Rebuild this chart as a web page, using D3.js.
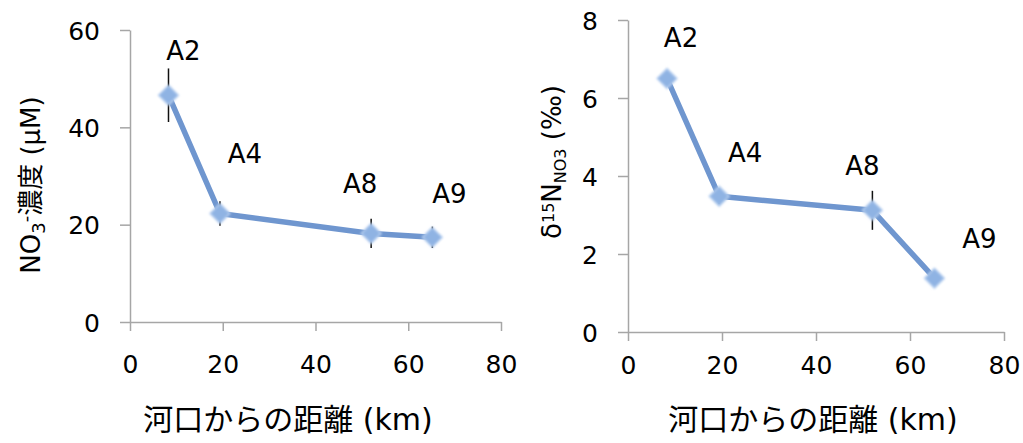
<!DOCTYPE html>
<html lang="ja">
  <head>
    <meta charset="UTF-8" />
    <title>NO3 chart</title>
    <style>
      body { margin: 0; background: #fff; }
      svg text { font-family: "DejaVu Sans", "Noto Sans CJK JP", sans-serif; fill: #000; }
    </style>
  </head>
  <body>
    <div id="chart"></div>
    <script src="https://d3js.org/d3.v7.min.js"></script>
    <script>
      // data
      var stations = ["A2", "A4", "A8", "A9"];
      var distance = [8.3, 19.4, 52.0, 65.2]; // km from river mouth
      var no3 = [46.6, 22.3, 18.2, 17.4];
      var no3Err = [5.5, 2.5, 3.0, 2.2];
      var d15n = [6.5, 3.48, 3.12, 1.38];
      var d15nErr = [0.12, 0.2, 0.5, 0.05];
      var xTicks = [0, 20, 40, 60, 80];
      var no3Ticks = [0, 20, 40, 60];
      var d15nTicks = [0, 2, 4, 6, 8];

      var W = 1023, H = 443;
      var svg = d3.select("#chart").append("svg")
        .attr("width", W).attr("height", H);

      var defs = svg.append("defs");
      var f = defs.append("filter").attr("id", "soft")
        .attr("x", "-50%").attr("y", "-50%").attr("width", "200%").attr("height", "200%");
      f.append("feGaussianBlur").attr("stdDeviation", 1.1);

      var drawChart = function (opt) {
        var x = d3.scaleLinear().domain([0, 80]).range([opt.left, opt.right]);
        var y = d3.scaleLinear().domain(opt.yDomain).range([opt.bottom, opt.top]);

        var g = svg.append("g");

        // axes
        var xAxis = g.append("g")
          .attr("transform", "translate(0," + opt.bottom + ")")
          .call(d3.axisBottom(x).tickValues(xTicks).tickSize(9).tickSizeOuter(0).tickPadding(opt.xPad));
        var yAxis = g.append("g")
          .attr("transform", "translate(" + opt.left + ",0)")
          .call(d3.axisLeft(y).tickValues(opt.yTicks).tickSize(10).tickSizeOuter(0).tickPadding(20));
        [xAxis, yAxis].forEach(function (a) {
          a.attr("font-family", null);
          a.select(".domain").attr("stroke", "#a6a6a6").attr("stroke-width", 1.5);
          a.selectAll(".tick line").attr("stroke", "#a6a6a6").attr("stroke-width", 1.5);
          a.selectAll(".tick text").style("font-size", "25px").attr("fill", "#000");
        });
        yAxis.selectAll(".tick text").attr("dy", "0.36em");

        var pts = stations.map(function (s, i) {
          return { name: s, d: distance[i], v: opt.values[i], e: opt.errors[i], off: opt.labelOff[i] };
        });

        // line
        g.append("path")
          .datum(pts)
          .attr("fill", "none")
          .attr("stroke", "#6f96cf")
          .attr("stroke-width", 5.5)
          .attr("stroke-linejoin", "round")
          .attr("d", d3.line().x(function (d) { return x(d.d); }).y(function (d) { return y(d.v); }));

        // error bars
        g.selectAll(".err").data(pts).enter().append("line")
          .attr("x1", function (d) { return x(d.d); })
          .attr("x2", function (d) { return x(d.d); })
          .attr("y1", function (d) { return y(d.v + d.e); })
          .attr("y2", function (d) { return y(d.v - d.e); })
          .attr("stroke", "#111").attr("stroke-width", 1.5);

        // diamond markers
        g.selectAll(".mk").data(pts).enter().append("path")
          .attr("d", d3.symbol().type(d3.symbolDiamond2).size(250))
          .attr("transform", function (d) { return "translate(" + x(d.d) + "," + y(d.v) + ")"; })
          .attr("fill", "#8fb3e3")
          .attr("stroke", "#b8d0f0")
          .attr("stroke-width", 1.5)
          .attr("filter", "url(#soft)");

        // station labels
        g.selectAll(".lab").data(pts).enter().append("text")
          .attr("x", function (d) { return x(d.d) + d.off[0]; })
          .attr("y", function (d) { return y(d.v) + d.off[1]; })
          .attr("text-anchor", "middle")
          .style("font-size", "26px")
          .text(function (d) { return d.name; });

        // x title
        g.append("text")
          .attr("x", opt.xTitleX).attr("y", 430)
          .attr("text-anchor", "middle")
          .style("font-size", "30px")
          .text("河口からの距離 (km)");

        // y title
        var yt = g.append("text")
          .attr("transform", "translate(" + opt.yTitleX + "," + opt.yTitleY + ")rotate(-90)")
          .attr("text-anchor", "middle")
          .style("font-size", "26px");
        opt.yTitle(yt);
      };

      drawChart({
        left: 130, right: 501, top: 30, bottom: 322,
        yDomain: [0, 60], yTicks: no3Ticks, xPad: 24,
        values: no3, errors: no3Err,
        labelOff: [[15, -35], [25, -50], [-11, -40], [17, -34]],
        xTitleX: 288, yTitleX: 40, yTitleY: 185,
        yTitle: function (t) {
          t.append("tspan").text("NO");
          t.append("tspan").attr("baseline-shift", "-30%").style("font-size", "18px").text("3");
          t.append("tspan").attr("baseline-shift", "45%").style("font-size", "18px").text("-");
          t.append("tspan").text("濃度 (μM)");
        }
      });

      drawChart({
        left: 628, right: 1004, top: 20, bottom: 332,
        yDomain: [0, 8], yTicks: d15nTicks, xPad: 15,
        values: d15n, errors: d15nErr,
        labelOff: [[14, -32], [26, -34], [-10, -35], [45, -30]],
        xTitleX: 813, yTitleX: 561, yTitleY: 162,
        yTitle: function (t) {
          t.append("tspan").text("δ");
          t.append("tspan").attr("baseline-shift", "45%").style("font-size", "16px").text("15");
          t.append("tspan").text("N");
          t.append("tspan").attr("baseline-shift", "-30%").style("font-size", "16px").text("NO3");
          t.append("tspan").text(" (‰)");
        }
      });
    </script>
  </body>
</html>
